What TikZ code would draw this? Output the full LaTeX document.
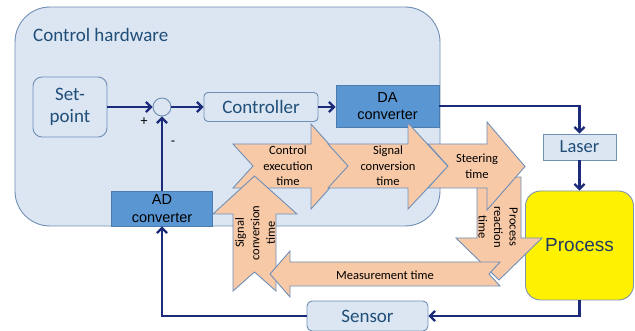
\documentclass[tikz,border=0pt]{standalone}
\usepackage{fontspec}
\setmainfont{Carlito}
\newfontfamily\arialf{Liberation Sans}
\usetikzlibrary{arrows.meta}
\definecolor{boxfill}{HTML}{DCE6F2}
\definecolor{boxline}{HTML}{6F8FB5}
\definecolor{hwtext}{HTML}{1F4E79}
\definecolor{convfill}{HTML}{5A96D2}
\definecolor{convline}{HTML}{4A7CB0}
\definecolor{navy}{HTML}{1C2A7A}
\definecolor{peachfill}{HTML}{F8C9A7}
\definecolor{peachline}{HTML}{6F8FB8}
\definecolor{proctext}{HTML}{203864}
\definecolor{procline}{HTML}{7F93AE}
\tikzset{
  lbox/.style={draw=boxline, fill=boxfill, line width=0.9pt, text=hwtext, inner sep=0pt, align=center,
    font=\fontsize{19}{22}\selectfont},
  conv/.style={draw=convline, fill=convfill, line width=0.9pt, text=black, inner sep=0pt, align=center,
    font=\arialf\fontsize{14.5}{17.5}\selectfont},
  conn/.style={draw=navy, line width=2.2pt, -{Straight Barb[length=5pt,width=10pt]}},
  peach/.style={draw=peachline, fill=peachfill, line width=0.9pt, line join=miter},
  atext/.style={font=\fontsize{12.5}{15.5}\selectfont, align=center, text=black, inner sep=0pt},
  sign/.style={font=\fontsize{14}{16}\selectfont, text=black, inner sep=0pt}
}
\begin{document}
\begin{tikzpicture}[x=1pt,y=-1pt]
\useasboundingbox (0,0) rectangle (635,331);
% control hardware
\node[lbox, rounded corners=35pt, minimum width=425pt, minimum height=219pt] (hw) at (227.5,116.5) {};
\node[anchor=west, text=hwtext, font=\fontsize{19}{22}\selectfont, inner sep=0pt] (hwlabel) at (33,35) {Control hardware};
% boxes
\node[lbox, rounded corners=9pt, minimum width=74pt, minimum height=60pt] (sp) at (70,107) {Set-\\point};
\node[circle, draw=boxline, fill=boxfill, line width=0.9pt, minimum size=18pt, inner sep=0pt] (sum) at (162,107) {};
\node[lbox, rounded corners=4pt, minimum width=114pt, minimum height=29pt] (ctrl) at (261,107) {Controller};
\node[conv, minimum width=103pt, minimum height=42pt] (da) at (387.5,106) {DA\\converter};
\node[conv, minimum width=101pt, minimum height=35pt] (ad) at (162,208.5) {AD\\converter};
\node[lbox, minimum width=73pt, minimum height=26pt, font=\fontsize{18.5}{22}\selectfont] (laser) at (579.5,147) {Laser};
\node[draw=procline, fill=yellow, line width=0.9pt, rounded corners=15pt, minimum width=108pt, minimum height=109pt,
  inner sep=0pt, text=proctext, font=\arialf\fontsize{19}{22}\selectfont] (proc) at (579.5,245.5) {\raisebox{-2pt}{Process}};
\node[lbox, rounded corners=5pt, minimum width=121pt, minimum height=30pt] (sensor) at (367.5,316) {Sensor};
\node[sign] (plus) at (144,122) {+};
\node[sign] (minus) at (173,143) {-};
% connectors
\draw[conn] (sp.east) -- (sum.west);
\draw[conn] (sum.east) -- (ctrl.west);
\draw[conn] (ctrl.east) -- (ctrl.east -| da.west);
\draw[conn] (da.east) -- (da.east -| laser.north) -- (laser.north);
\draw[conn] (laser.south) -- (proc.north);
\draw[conn] (proc.south) |- (sensor.east);
\draw[conn] (sensor.west) -| (ad.south);
\draw[conn] (ad.north) -- (sum.south);
% timing arrows
\path[peach] (233,144) -- (311,144) -- (311,124) -- (349,166.5) -- (311,209) -- (311,188) -- (233,188) -- (253,166) -- cycle;
\node[atext] (t1) at (288,166) {Control\\execution\\time};
\path[peach] (233,291) -- (233,214) -- (213,214) -- (254.5,176) -- (297,214) -- (276,214) -- (276,291) -- (254.5,272) -- cycle;
\node[atext, rotate=90] (t4) at (255,233) {Signal\\conversion\\time};
\path[peach] (328,144) -- (408,144) -- (408,123) -- (448,166.5) -- (408,209) -- (408,188) -- (328,188) -- (348,166) -- cycle;
\node[atext] (t2) at (388,166) {Signal\\conversion\\time};
\path[peach] (477,177) -- (521,177) -- (521,238) -- (542,238) -- (499,280) -- (456,238) -- (477,238) -- cycle;
\node[atext, rotate=-90] (t5) at (498,227) {Process\\reaction\\time};
\path[peach] (428,144) -- (487,144) -- (487,122) -- (525,166.5) -- (487,210) -- (487,188) -- (428,188) -- (448,166) -- cycle;
\node[atext] (t3) at (477,166) {Steering\\time};
\path[peach] (500,262) -- (290,262) -- (290,251) -- (270,274) -- (290,297) -- (290,286) -- (500,286) -- (489,274) -- cycle;
\node[atext] (t6) at (385,275) {Measurement time};
\end{tikzpicture}
\end{document}
